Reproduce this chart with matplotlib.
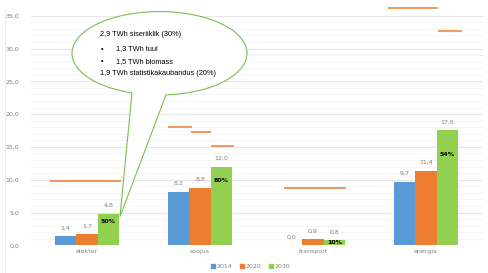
import matplotlib
matplotlib.use("Agg")
import matplotlib.pyplot as plt
import numpy as np
from matplotlib.path import Path
from matplotlib.patches import PathPatch
from matplotlib.lines import Line2D
from matplotlib.ticker import MultipleLocator, FuncFormatter

categories = ["elekter", "soojus", "transport", "energia"]
years = ["2014", "2020", "2030"]
v2014 = [1.4, 8.2, 0.0, 9.7]
v2020 = [1.7, 8.8, 0.9, 11.4]
v2030 = [4.8, 12.0, 0.8, 17.6]
pct_labels = ["50%", "80%", "10%", "54%"]
pct_label_y = [3.6, 9.85, 0.45, 13.9]
# target lines: (category index, value, x-start offset, x-end offset)
target_cat = [0, 1, 1, 1, 2, 3, 3]
target_val = [9.8, 18.0, 17.3, 15.1, 8.7, 36.2, 32.6]
target_x0 = [-0.33, -0.285, -0.08, 0.097, -0.257, -0.336, 0.106]
target_x1 = [0.30, -0.071, 0.097, 0.30, 0.292, 0.106, 0.319]
bubble_lines = ["2,9 TWh siseriiklik (30%)", "1,3 TWh tuul", "1,5 TWh biomass",
                "1,9 TWh statistikakaubandus (20%)"]

colors = ["#5B9BD5", "#ED7D31", "#92D050"]
gray = "#7f7f7f"
W, H = 488, 273
fig = plt.figure(figsize=(W / 100, H / 100), dpi=100)
ax = fig.add_axes([30.5 / W, 1 - 245.3 / H, (482.5 - 30.5) / W, (245.3 - 15.7) / H])

x = np.arange(len(categories))
bw = 0.19
for i, (vals, c) in enumerate(zip([v2014, v2020, v2030], colors)):
    xs = x + (i - 1) * bw
    ax.bar(xs, vals, width=bw, color=c, zorder=3, label=years[i])
    for xx, v in zip(xs, vals):
        ax.annotate(f"{v:.1f}".replace(".", ","), (xx, v), xytext=(0, 4),
                    textcoords="offset points", ha="center", va="bottom",
                    fontsize=4.5, color=gray)
for xx, t, yy in zip(x + bw, pct_labels, pct_label_y):
    ax.text(xx, yy, t, ha="center", va="center", fontsize=4.5,
            fontweight="bold", color="black", zorder=4)

for ci, v, a, b in zip(target_cat, target_val, target_x0, target_x1):
    ax.plot([ci + a, ci + b], [v, v], color="#ED7D31", lw=1.1, zorder=4,
            clip_on=False, solid_capstyle="butt")

ax.set_xlim(-0.5, 3.5)
ax.set_ylim(0, 35)
ax.yaxis.set_major_locator(MultipleLocator(5))
ax.yaxis.set_minor_locator(MultipleLocator(1))
ax.yaxis.set_major_formatter(FuncFormatter(lambda v, p: f"{v:.1f}".replace(".", ",")))
ax.grid(axis="y", which="major", color="#e6e6e6", lw=0.8, zorder=0)
ax.grid(axis="y", which="minor", color="#f4f4f4", lw=0.6, zorder=0)
ax.set_axisbelow(True)
for s in ax.spines.values():
    s.set_visible(False)
ax.tick_params(axis="both", which="both", length=0, labelsize=4.5, labelcolor=gray)
ax.tick_params(axis="y", pad=8)
ax.tick_params(axis="x", pad=3)
ax.set_xticks(x)
ax.set_xticklabels(categories)

handles = [Line2D([], [], marker="s", ls="", color=c, markersize=3) for c in colors]
fig.legend(handles, years, loc="center", bbox_to_anchor=(250 / W, 1 - 266 / H), ncol=3,
           frameon=False, fontsize=4.5, handletextpad=0.1, columnspacing=1.0,
           labelcolor=gray, handlelength=1.0)

# figure left border
fig.add_artist(Line2D([5 / W, 5 / W], [0, 1 - 10 / H], transform=fig.transFigure,
                      color="#ececec", lw=0.8))

# speech bubble (pixel coordinates -> figure coordinates)
cx, cy, a, b = 159.5, 53.3, 87.5, 41.7
bx0, bx1 = 132.0, 166.0
tip = (120.0, 216.5)
t0 = np.arccos((bx1 - cx) / a)
t1 = np.arccos((bx0 - cx) / a)
ts = np.linspace(t1, t0 + 2 * np.pi, 300)
px = cx + a * np.cos(ts)
py = cy + b * np.sin(ts)
pts = list(zip(px, py)) + [tip, (px[0], py[0])]
pts = [(u / W, 1 - v / H) for u, v in pts]
path = Path(pts)
fig.add_artist(PathPatch(path, transform=fig.transFigure, facecolor="white",
                         edgecolor="#7DBF4E", lw=0.8, zorder=10))

fam = ["Liberation Sans Narrow", "DejaVu Sans Condensed", "Liberation Sans"]
tk = dict(transform=fig.transFigure, fontsize=5.3, color="black", va="center",
          family=fam, zorder=11)
fig.text(100.5 / W, 1 - 35 / H, bubble_lines[0], **tk)
fig.text(101 / W, 1 - 49 / H, "•", **tk)
fig.text(116 / W, 1 - 49 / H, bubble_lines[1], **tk)
fig.text(101 / W, 1 - 61.7 / H, "•", **tk)
fig.text(116 / W, 1 - 61.7 / H, bubble_lines[2], **tk)
fig.text(100.5 / W, 1 - 73.3 / H, bubble_lines[3], **tk)

fig.savefig("out.png", dpi=100, facecolor="white")
